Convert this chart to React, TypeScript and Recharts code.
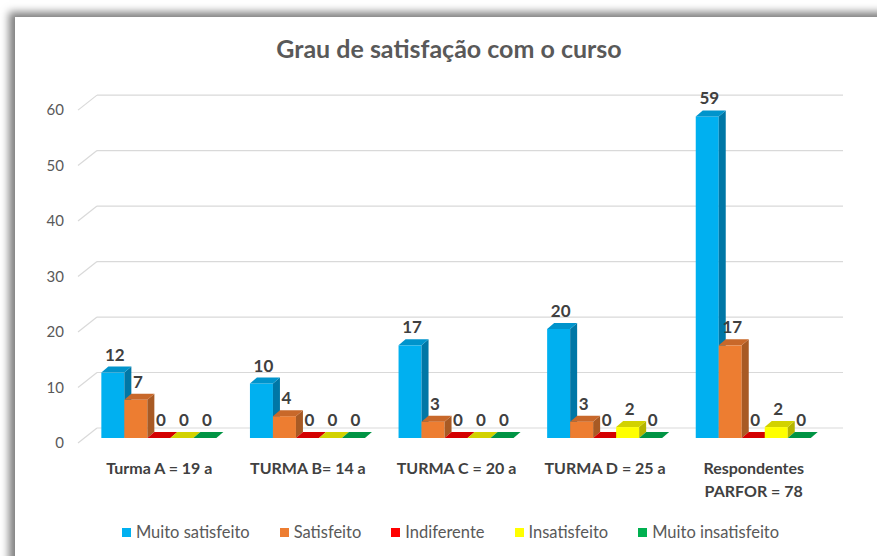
import { BarChart, Bar, XAxis, YAxis, CartesianGrid, Legend, LabelList } from 'recharts';

const categories = ['Turma A = 19 a', 'TURMA B= 14 a', 'TURMA C = 20 a', 'TURMA D = 25 a', 'Respondentes\nPARFOR = 78'];
const seriesNames = ['Muito satisfeito', 'Satisfeito', 'Indiferente', 'Insatisfeito', 'Muito insatisfeito'];
const muitoSatisfeito = [12, 10, 17, 20, 59];
const satisfeito = [7, 4, 3, 3, 17];
const indiferente = [0, 0, 0, 0, 0];
const insatisfeito = [0, 0, 0, 2, 2];
const muitoInsatisfeito = [0, 0, 0, 0, 0];
const yTicks = [0, 10, 20, 30, 40, 50, 60];

const data = categories.map((name, i) => ({
    name,
    ms: muitoSatisfeito[i],
    s: satisfeito[i],
    ind: indiferente[i],
    ins: insatisfeito[i],
    mi: muitoInsatisfeito[i],
}));

const FONT = 'Lato, "Open Sans", sans-serif';
const PLOT_BOTTOM = 438;
const DX = 7;
const DY = -6;

// excel style 3d box: front, side, top
const box3d = (front: string, side: string, top: string) => (props: any) => {
    const { x, y, width, height } = props;
    if (x == null || y == null) return <g />;
    const h = Math.max(height || 0, 0);
    return (
        <g>
            <rect x={x} y={y} width={width} height={h} fill={front} />
            <polygon points={`${x + width},${y} ${x + width + DX},${y + DY} ${x + width + DX},${y + h + DY} ${x + width},${y + h}`} fill={side} />
            <polygon points={`${x},${y} ${x + width},${y} ${x + width + DX},${y + DY} ${x + DX},${y + DY}`} fill={top} />
        </g>
    );
};

const valueLabel = (props: any) => {
    const { x, y, width, value } = props;
    return (
        <text x={x + width / 2 + 2} y={y - 12} textAnchor="middle" fontFamily={FONT} fontWeight={700} fontSize={17} fill="#404040">
            {value}
        </text>
    );
};

const gridLine = (p: any) => {
    const y = p.y1;
    const depth = (PLOT_BOTTOM - y) * 0.018;
    const fy = y + 5 - depth;
    const by = y - 10 - depth;
    return (
        <g key={p.key ?? y}>
            <line x1={p.x1 - 7} y1={fy} x2={p.x1 + 12} y2={by} stroke="#d9d9d9" strokeWidth={1.2} />
            <line x1={p.x1 + 12} y1={by} x2={p.x2 + 15} y2={by} stroke="#d9d9d9" strokeWidth={1.2} />
        </g>
    );
};

const yTick = (p: any) => {
    const y = p.y;
    const fy = y + 5 - (PLOT_BOTTOM - y) * 0.018;
    return (
        <text x={64} y={fy} dy="0.35em" textAnchor="end" fontFamily={FONT} fontSize={15} fill="#595959">
            {p.payload.value}
        </text>
    );
};

const xTick = (p: any) => {
    const lines = String(p.payload.value).split('\n');
    return (
        <text x={p.x} y={p.y} textAnchor="middle" fontFamily={FONT} fontWeight={700} fontSize={16} fill="#404040">
            {lines.map((l, i) => (
                <tspan key={i} x={p.x} dy={i === 0 ? 28 : 23}>{l}</tspan>
            ))}
        </text>
    );
};

const legendContent = (props: any) => {
    const items = [...props.payload].sort((a: any, b: any) => seriesNames.indexOf(a.value) - seriesNames.indexOf(b.value));
    return (
        <div style={{ display: 'flex', justifyContent: 'center', alignItems: 'center', paddingLeft: 48, fontFamily: FONT, fontSize: 16.5, color: '#595959' }}>
            {items.map((e: any) => (
                <div key={e.value} style={{ display: 'flex', alignItems: 'center', margin: '0 15px' }}>
                    <span style={{ width: 9, height: 9, background: e.color, marginRight: 5, display: 'inline-block' }} />
                    {e.value}
                </div>
            ))}
        </div>
    );
};

export default function App() {
    return (
        <div style={{ position: 'relative', width: 877, height: 556, overflow: 'hidden', background: '#fff' }}>
            <style>{'body{margin:0}'}</style>
            <div style={{ position: 'absolute', left: 15, top: 17, width: 900, height: 600, background: '#fff', boxShadow: '-6px -5px 8px rgba(0,0,0,0.5)' }} />
            <div style={{ position: 'absolute', left: 22, top: 33, width: 854, textAlign: 'center', fontFamily: FONT, fontSize: 25, fontWeight: 700, color: '#595959' }}>
                Grau de satisfação com o curso
            </div>
            <div style={{ position: 'absolute', left: 0, top: 0 }}>
                <BarChart width={877} height={556} data={data} margin={{ top: 111, right: 49, left: 25, bottom: 0 }} barCategoryGap="11%" barGap={0}>
                    <CartesianGrid vertical={false} horizontal={gridLine} />
                    <XAxis dataKey="name" axisLine={false} tickLine={false} height={88} tick={xTick} interval={0} />
                    <YAxis domain={[0, 60]} ticks={yTicks} axisLine={false} tickLine={false} width={60} tick={yTick} />
                    <Legend verticalAlign="bottom" height={30} wrapperStyle={{ bottom: 4 }} content={legendContent} />
                    <Bar dataKey="ms" name={seriesNames[0]} fill="#00B0F0" isAnimationActive={false} shape={box3d('#00B0F0', '#0077A6', '#0094CC')}>
                        <LabelList dataKey="ms" content={valueLabel} />
                    </Bar>
                    <Bar dataKey="s" name={seriesNames[1]} fill="#ED7D31" isAnimationActive={false} shape={box3d('#ED7D31', '#A85A24', '#C8682A')}>
                        <LabelList dataKey="s" content={valueLabel} />
                    </Bar>
                    <Bar dataKey="ind" name={seriesNames[2]} fill="#FF0000" isAnimationActive={false} shape={box3d('#FF0000', '#B00000', '#D40000')}>
                        <LabelList dataKey="ind" content={valueLabel} />
                    </Bar>
                    <Bar dataKey="ins" name={seriesNames[3]} fill="#FFFF00" isAnimationActive={false} shape={box3d('#FFFF00', '#B5B500', '#D2D200')}>
                        <LabelList dataKey="ins" content={valueLabel} />
                    </Bar>
                    <Bar dataKey="mi" name={seriesNames[4]} fill="#00B050" isAnimationActive={false} shape={box3d('#00B050', '#007A38', '#009444')}>
                        <LabelList dataKey="mi" content={valueLabel} />
                    </Bar>
                </BarChart>
            </div>
        </div>
    );
}
